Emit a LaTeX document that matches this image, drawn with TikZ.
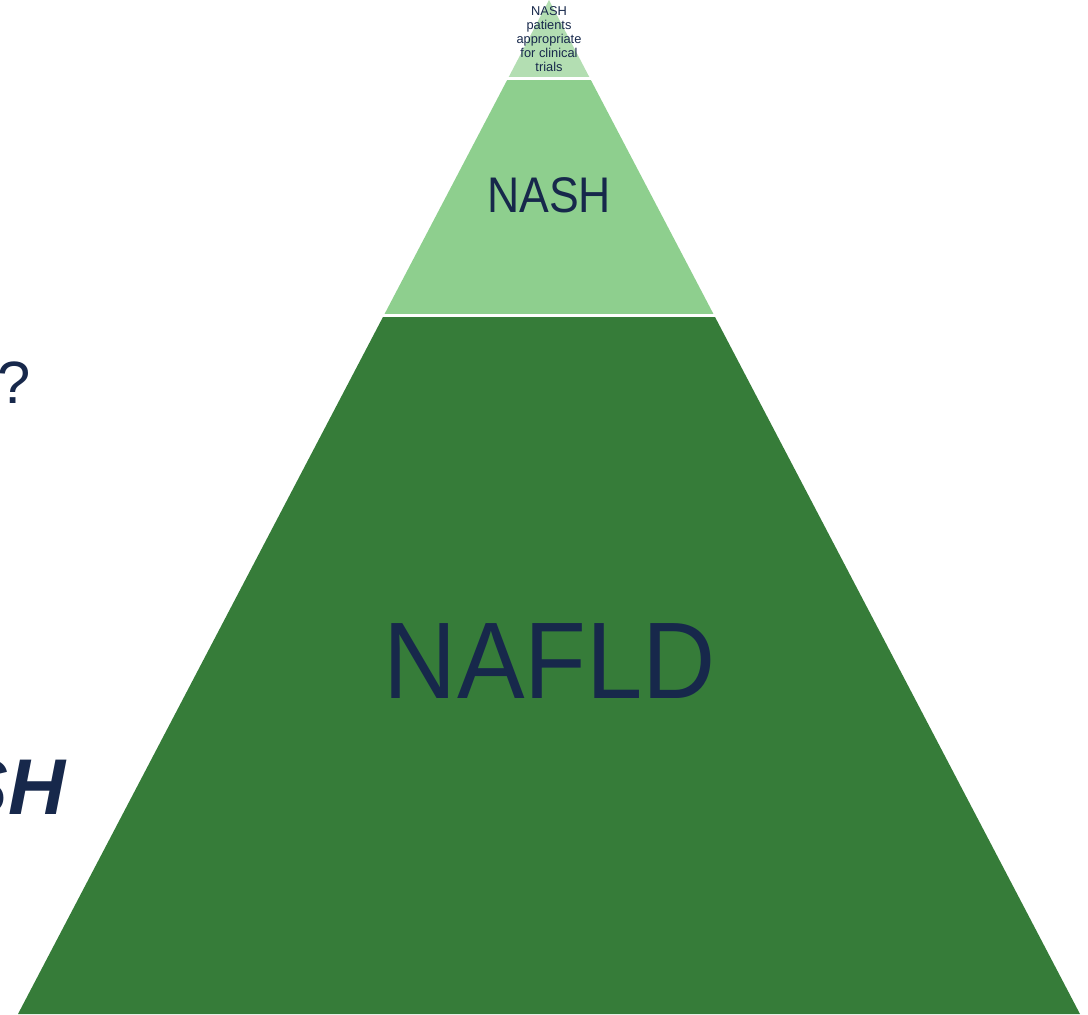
\documentclass[tikz,border=0pt]{standalone}
\usepackage{fontspec}
\setmainfont{Liberation Sans}
\definecolor{navy}{HTML}{17284B}
\definecolor{topgreen}{HTML}{B3DEB2}
\definecolor{midgreen}{HTML}{8ECF8E}
\definecolor{darkgreen}{HTML}{367C39}
\begin{document}
\begin{tikzpicture}[x=0.02cm,y=-0.02cm,
  lbl/.style={text=navy,inner sep=0pt,font=\fontsize{#1}{#1}\selectfont},
  gap/.style={white,line width=1.9pt}]
\useasboundingbox (0,0) rectangle (1088,1014);
\clip (0,0) rectangle (1088,1014);
% pyramid layers
\fill[darkgreen] (383.5,316) -- (714.5,316) -- (1080,1014) -- (18,1014) -- cycle;
\fill[midgreen] (508.2,78) -- (589.8,78) -- (714.5,316) -- (383.5,316) -- cycle;
\fill[topgreen] (549,0) -- (589.8,78) -- (508.2,78) -- cycle;
\draw[gap] (500,78.5) -- (600,78.5);
\draw[gap] (375,315.5) -- (725,315.5);
% labels
\node[lbl=62, xscale=0.93] (nafld) at (550,661) {NAFLD};
\node[lbl=28.5, xscale=0.89] (nash) at (549,195) {NASH};
\node[lbl=7.3, align=center, font=\fontsize{7.3}{7.9}\selectfont] (top) at (549,39)
  {NASH\\patients\\appropriate\\for clinical\\trials};
\node[lbl=34, anchor=east] (q) at (31,383) {?};
\node[lbl=45, anchor=east, font=\fontsize{45}{45}\selectfont\bfseries\itshape] (sh) at (66,787) {NASH};
\end{tikzpicture}
\end{document}
